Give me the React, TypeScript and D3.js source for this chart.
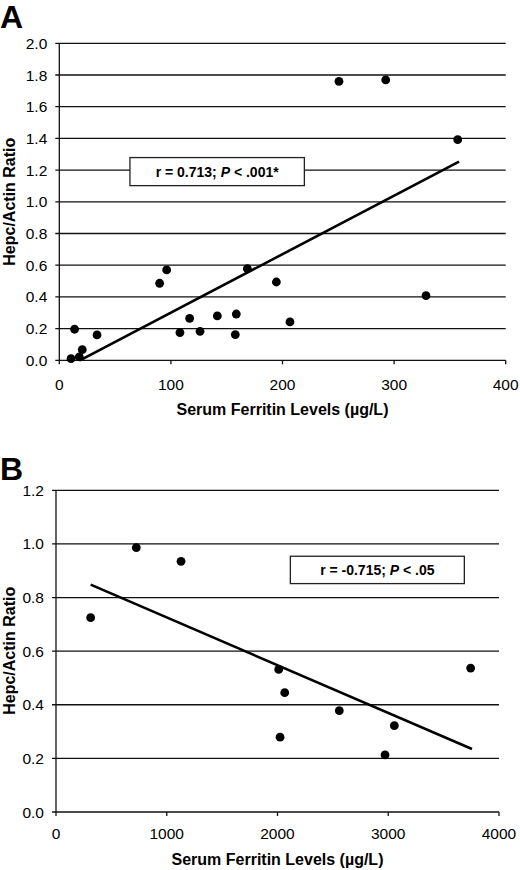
import * as d3 from "d3";
import React from "react";

// Panel A: serum ferritin (µg/L) vs hepc/actin ratio
const ferritinA = [10.5, 13.7, 17.9, 20.6, 33.8, 89.9, 96.2, 108.1, 116.8, 126.1, 141.6, 157.7, 158.6, 168.5, 194.5, 206.7, 250.6, 292.5, 328.6, 357.0];
const ratioA = [0.01, 0.196, 0.021, 0.067, 0.16, 0.486, 0.57, 0.175, 0.265, 0.183, 0.28, 0.162, 0.292, 0.578, 0.494, 0.242, 1.76, 1.769, 0.408, 1.392];
const trendA = [[18.5, 0.0], [358.2, 1.253]];
const boxA = { x0: 63.3, x1: 219.6, y0: 1.279, y1: 1.102 };
const xTicksA = [0, 100, 200, 300, 400];
const yTicksA = [0, 0.2, 0.4, 0.6, 0.8, 1.0, 1.2, 1.4, 1.6, 1.8, 2.0];

// Panel B
const ferritinB = [313, 725, 1129, 2011, 2065, 2023, 2558, 3055, 2971, 3744];
const ratioB = [0.725, 0.986, 0.935, 0.532, 0.445, 0.279, 0.378, 0.322, 0.213, 0.537];
const trendB = [[313, 0.848], [3756, 0.235]];
const boxB = { x0: 2116, x1: 3687, y0: 0.954, y1: 0.852 };
const xTicksB = [0, 1000, 2000, 3000, 4000];
const yTicksB = [0, 0.2, 0.4, 0.6, 0.8, 1.0, 1.2];

const font = "'Liberation Sans', Arial, sans-serif";

function Panel({ letter, letterY, xs, ys, trend, box, xTicks, yTicks, xRange, yRange, stat, statP, xLabelY, xTitleY, yTitleY }: any) {
  const x = d3.scaleLinear().domain([xTicks[0], xTicks[xTicks.length - 1]]).range(xRange);
  const y = d3.scaleLinear().domain([yTicks[0], yTicks[yTicks.length - 1]]).range(yRange);
  const line = d3.line<number[]>().x((d) => x(d[0])).y((d) => y(d[1]));
  const left = xRange[0];
  const right = xRange[1];
  return (
    <g fontFamily={font}>
      <text x={0} y={letterY} fontSize={32} fontWeight="bold">{letter}</text>
      {/* gridlines + y ticks */}
      {yTicks.map((t: number) => (
        <g key={"y" + t}>
          <line x1={left - 4} x2={right} y1={y(t)} y2={y(t)} stroke="#111" strokeWidth={1.3} />
          <text x={left - 12} y={y(t)} dy="0.36em" textAnchor="end" fontSize={15.5}>{t.toFixed(1)}</text>
        </g>
      ))}
      <line x1={left} x2={left} y1={yRange[1]} y2={yRange[0]} stroke="#111" strokeWidth={1.3} />
      {xTicks.map((t: number) => (
        <g key={"x" + t}>
          <line x1={x(t)} x2={x(t)} y1={yRange[0]} y2={yRange[0] + 4} stroke="#111" strokeWidth={1.3} />
          <text x={x(t)} y={xLabelY} textAnchor="middle" fontSize={15.5}>{t}</text>
        </g>
      ))}
      <text x={(left + right) / 2} y={xTitleY} textAnchor="middle" fontSize={16} fontWeight="bold">
        Serum Ferritin Levels (µg/L)
      </text>
      <text transform={`translate(14.5,${yTitleY}) rotate(-90)`} textAnchor="middle" fontSize={16} fontWeight="bold">
        Hepc/Actin Ratio
      </text>
      {/* stats box */}
      <rect x={x(box.x0)} y={y(box.y0)} width={x(box.x1) - x(box.x0)} height={y(box.y1) - y(box.y0)} fill="#fff" stroke="#222" strokeWidth={1.3} />
      <text x={(x(box.x0) + x(box.x1)) / 2} y={(y(box.y0) + y(box.y1)) / 2} dy="0.36em" textAnchor="middle" fontSize={14} fontWeight="bold">
        {stat}<tspan fontStyle="italic">P</tspan>{statP}
      </text>
      {/* trend line */}
      <path d={line(trend) || ""} fill="none" stroke="#000" strokeWidth={2.6} />
      {xs.map((v: number, i: number) => (
        <circle key={i} cx={x(v)} cy={y(ys[i])} r={4.4} fill="#000" />
      ))}
    </g>
  );
}

export default function App() {
  return (
    <svg width={520} height={870} style={{ position: "absolute", left: 0, top: 0, background: "#fff" }}>
      <rect width={520} height={870} fill="#fff" />
      <Panel letter="A" letterY={28} xs={ferritinA} ys={ratioA} trend={trendA} box={boxA}
        xTicks={xTicksA} yTicks={yTicksA} xRange={[59.3, 505.7]} yRange={[360.3, 43.3]}
        stat="r = 0.713; " statP=" < .001*" xLabelY={390} xTitleY={415} yTitleY={201.7} />
      <Panel letter="B" letterY={480} xs={ferritinB} ys={ratioB} trend={trendB} box={boxB}
        xTicks={xTicksB} yTicks={yTicksB} xRange={[56, 499]} yRange={[812, 490.3]}
        stat="r = -0.715; " statP=" < .05" xLabelY={839} xTitleY={865} yTitleY={650.8} />
    </svg>
  );
}
